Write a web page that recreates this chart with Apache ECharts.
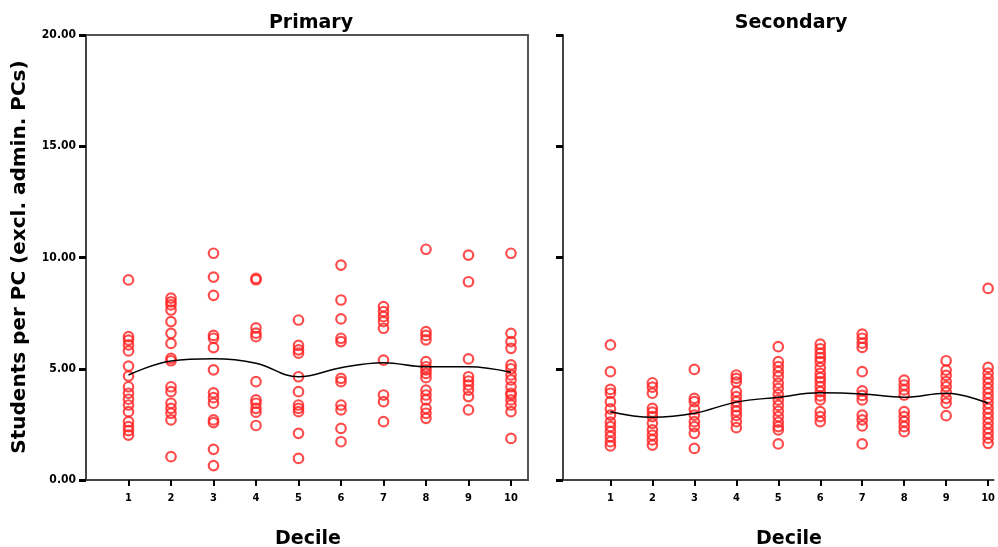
<!DOCTYPE html>
<html><head><meta charset="utf-8">
<script src="https://cdn.jsdelivr.net/npm/echarts@6/dist/echarts.min.js"></script>
<style>html,body{margin:0;padding:0;background:#fff}#c{width:998px;height:547px}</style>
</head><body><div id="c"></div>
<script>
const deciles = [1,2,3,4,5,6,7,8,9,10];
const yTicks = [0,5,10,15,20];
const panelTitles = ['Primary','Secondary'];
const xName = 'Decile';
const yName = 'Students per PC (excl. admin. PCs)';

const primaryByDecile = [
  [8.99, 6.44, 6.29, 6.07, 5.8, 5.12, 4.67, 4.19, 3.9, 3.63, 3.37, 3.07, 2.62, 2.4, 2.22, 2.02],
  [8.17, 8.01, 7.87, 7.64, 7.12, 6.59, 6.14, 5.47, 5.36, 4.19, 3.97, 3.45, 3.22, 3.0, 2.7, 1.05],
  [10.19, 9.12, 8.3, 6.5, 6.37, 5.95, 4.95, 3.92, 3.7, 3.45, 2.7, 2.58, 1.38, 0.65],
  [9.06, 9.0, 6.84, 6.6, 6.44, 4.42, 3.6, 3.45, 3.22, 3.05, 2.45],
  [7.19, 6.05, 5.85, 5.7, 4.64, 3.97, 3.37, 3.22, 3.07, 2.1, 0.97],
  [9.66, 8.09, 7.24, 6.37, 6.22, 4.57, 4.42, 3.37, 3.15, 2.32, 1.72],
  [7.79, 7.57, 7.34, 7.12, 6.82, 5.39, 3.82, 3.52, 2.62],
  [10.37, 6.67, 6.5, 6.3, 5.32, 5.09, 4.95, 4.79, 4.6, 4.04, 3.82, 3.6, 3.22, 3.0, 2.77],
  [10.11, 8.91, 5.44, 4.64, 4.45, 4.27, 4.04, 3.75, 3.15],
  [10.19, 6.59, 6.22, 5.92, 5.17, 5.0, 4.72, 4.5, 4.19, 3.9, 3.82, 3.6, 3.37, 3.07, 1.87]
];
const secondaryByDecile = [
  [6.07, 4.87, 4.07, 3.9, 3.52, 3.2, 2.92, 2.6, 2.4, 2.17, 1.95, 1.72, 1.53],
  [4.37, 4.17, 3.9, 3.22, 3.05, 2.85, 2.55, 2.25, 2.02, 1.8, 1.57],
  [4.97, 3.67, 3.52, 3.18, 2.92, 2.62, 2.4, 2.1, 1.42],
  [4.72, 4.57, 4.4, 3.97, 3.75, 3.52, 3.3, 3.1, 2.9, 2.62, 2.35],
  [5.99, 5.32, 5.1, 4.87, 4.64, 4.35, 4.12, 3.85, 3.6, 3.35, 3.1, 2.85, 2.6, 2.4, 2.25, 1.62],
  [6.11, 5.9, 5.69, 5.5, 5.32, 5.05, 4.79, 4.6, 4.42, 4.2, 3.97, 3.78, 3.6, 3.07, 2.85, 2.62],
  [6.56, 6.37, 6.15, 5.96, 4.87, 4.01, 3.8, 3.6, 2.92, 2.7, 2.43, 1.62],
  [4.49, 4.27, 4.05, 3.82, 3.07, 2.85, 2.62, 2.4, 2.17],
  [5.36, 4.94, 4.7, 4.42, 4.2, 3.95, 3.67, 3.45, 2.89],
  [8.61, 5.06, 4.8, 4.57, 4.35, 4.12, 3.9, 3.68, 3.45, 3.22, 3.0, 2.78, 2.55, 2.32, 2.1, 1.88, 1.65]
];
const primaryFit = [4.72, 5.35, 5.45, 5.25, 4.64, 5.05, 5.27, 5.09, 5.09, 4.84];
const secondaryFit = [3.07, 2.82, 3.0, 3.5, 3.72, 3.92, 3.87, 3.72, 3.9, 3.45];

function pts(groups){ const out=[]; groups.forEach((g,i)=>g.forEach(v=>out.push([deciles[i], v]))); return out; }
function fit(arr){ return arr.map((v,i)=>[deciles[i], v]); }

const tickFont = {fontFamily:"'DejaVu Sans Condensed','DejaVu Sans',sans-serif", fontWeight:'bold', fontSize:12, color:'#000'};
const bigFont = {fontFamily:"'DejaVu Sans',sans-serif", fontWeight:'bold', fontSize:19, color:'#000'};

function xAxis(idx, min, max){
  return {type:'value', gridIndex:idx, min:min, max:max, interval:1,
    axisLine:{show:true, onZero:false, lineStyle:{color:'#444', width:2}},
    axisTick:{show:true, customValues:deciles, length:6, lineStyle:{color:'#000', width:2}},
    axisLabel:{show:true, customValues:deciles, margin:13, ...tickFont, fontSize:11},
    splitLine:{show:false}};
}
function yAxis(idx, labels){
  return {type:'value', gridIndex:idx, min:0, max:20, interval:5,
    axisLine:{show:true, onZero:false, lineStyle:{color:'#444', width:2}},
    axisTick:{show:true, customValues:yTicks, length:7, lineStyle:{color:'#000', width:3}},
    axisLabel:{show:labels, customValues:yTicks, margin:10, formatter:v=>v.toFixed(2), ...tickFont},
    splitLine:{show:false}};
}
const sym = {symbol:'circle', symbolSize:9.5, itemStyle:{color:'rgba(0,0,0,0)', borderColor:'#ff2020', borderWidth:2.2}};
const chart = echarts.init(document.getElementById('c'), null, {renderer:'canvas'});
chart.setOption({
  animation:false,
  backgroundColor:'#fff',
  title:[
    {text:panelTitles[0], left:306, top:9, textAlign:'center', textStyle:bigFont},
    {text:panelTitles[1], left:786, top:9, textAlign:'center', textStyle:bigFont},
    {text:xName, left:303, top:525, textAlign:'center', textStyle:bigFont},
    {text:xName, left:784, top:525, textAlign:'center', textStyle:bigFont}
  ],
  graphic:[{type:'text', x:20, y:257, rotation:Math.PI/2,
    style:{text:yName, fill:'#000', font:"bold 20px 'DejaVu Sans', sans-serif", align:'center', verticalAlign:'middle'}}],
  grid:[
    {left:86, top:35, width:442, height:445, show:true, borderColor:'#555', borderWidth:2, backgroundColor:'transparent'},
    {left:563, top:35, width:435, height:445}
  ],
  xAxis:[xAxis(0, 0, 10.4), xAxis(1, -0.13, 10.13)],
  yAxis:[yAxis(0, true), yAxis(1, false)],
  series:[
    {type:'scatter', xAxisIndex:0, yAxisIndex:0, data:pts(primaryByDecile), ...sym, clip:false, z:2},
    {type:'line', xAxisIndex:0, yAxisIndex:0, data:fit(primaryFit), smooth:0.4, showSymbol:false, lineStyle:{color:'#000', width:1.5}, z:3},
    {type:'scatter', xAxisIndex:1, yAxisIndex:1, data:pts(secondaryByDecile), ...sym, clip:false, z:2},
    {type:'line', xAxisIndex:1, yAxisIndex:1, data:fit(secondaryFit), smooth:0.4, showSymbol:false, lineStyle:{color:'#000', width:1.5}, z:3}
  ]
});
</script></body></html>
